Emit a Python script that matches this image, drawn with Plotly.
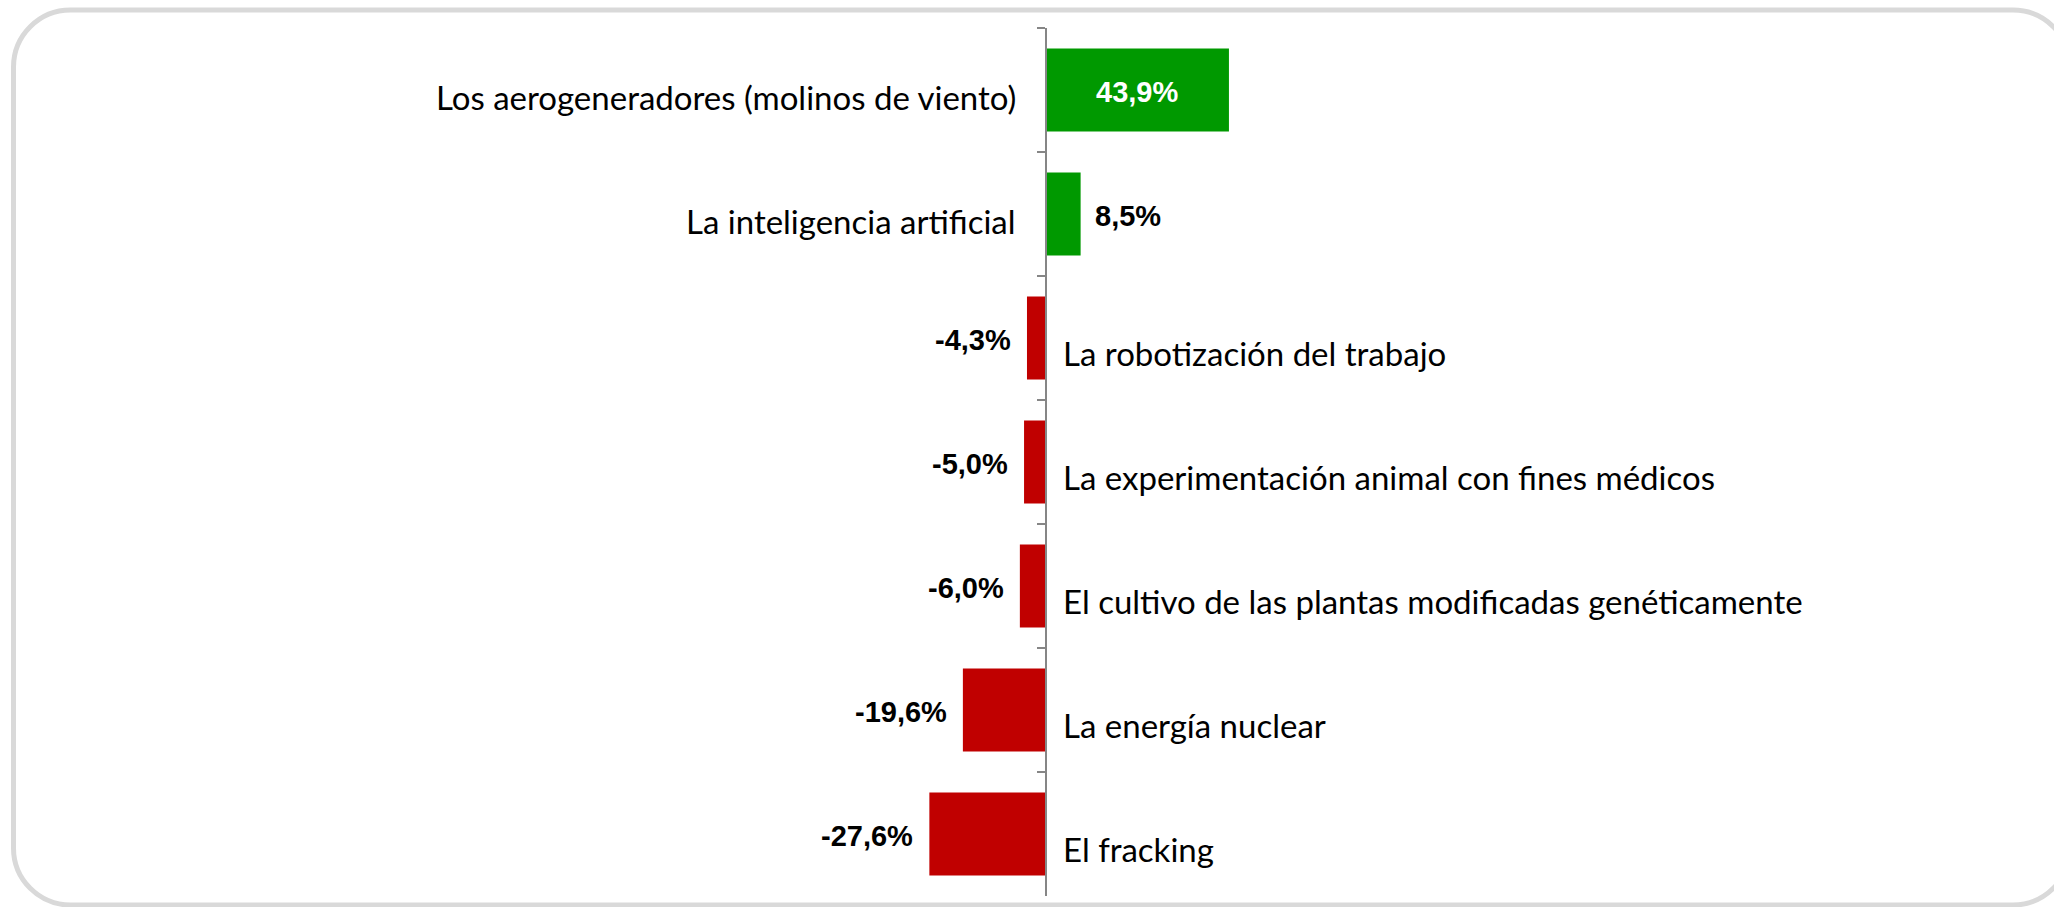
import plotly.graph_objects as go

categories = [
    "Los aerogeneradores (molinos de viento)",
    "La inteligencia artificial",
    "La robotización del trabajo",
    "La experimentación animal con fines médicos",
    "El cultivo de las plantas modificadas genéticamente",
    "La energía nuclear",
    "El fracking",
]
values = [43.9, 8.5, -4.3, -5.0, -6.0, -19.6, -27.6]
value_labels = ["43,9%", "8,5%", "-4,3%", "-5,0%", "-6,0%", "-19,6%", "-27,6%"]

GREEN = "#009900"
RED = "#C00000"
W, H = 2054, 907
ML, MR, MT, MB = 0, 0, 28, 11
ZERO_PX = 1045
PX_PER_UNIT = 4.19
plot_w = W - ML - MR
plot_h = H - MT - MB
x_lo = -(ZERO_PX - ML) / PX_PER_UNIT
x_hi = (W - MR - ZERO_PX) / PX_PER_UNIT

colors = [GREEN if v > 0 else RED for v in values]

fig = go.Figure(
    go.Bar(
        x=values,
        y=categories,
        orientation="h",
        marker=dict(color=colors, line=dict(width=0)),
        hoverinfo="skip",
    )
)

cat_font = dict(family="Lato, DejaVu Sans, sans-serif", size=33, color="#000000")
val_font = dict(family="Liberation Sans, Arial, sans-serif", size=29, color="#000000")

annotations = []
for i, (c, v, lab) in enumerate(zip(categories, values, value_labels)):
    # category label on the opposite side of the bar
    if v > 0:
        annotations.append(dict(x=0, y=c, xref="x", yref="y", text=c, showarrow=False,
                                xanchor="right", xshift=-27, yshift=-7, font=cat_font))
    else:
        annotations.append(dict(x=0, y=c, xref="x", yref="y", text=c, showarrow=False,
                                xanchor="left", xshift=16, yshift=-15, font=cat_font))
    # value label
    if i == 0:
        annotations.append(dict(x=v / 2, y=c, xref="x", yref="y", text="<b>%s</b>" % lab,
                                showarrow=False, xanchor="center", yshift=-2,
                                font=dict(val_font, color="#FFFFFF")))
    elif v > 0:
        annotations.append(dict(x=v, y=c, xref="x", yref="y", text="<b>%s</b>" % lab,
                                showarrow=False, xanchor="left", xshift=12, yshift=-2,
                                font=val_font))
    else:
        annotations.append(dict(x=v, y=c, xref="x", yref="y", text="<b>%s</b>" % lab,
                                showarrow=False, xanchor="right", xshift=-14, yshift=-2,
                                font=val_font))


def px_x(p):
    return (p - ML) / plot_w


def px_y(p):
    return (H - MB - p) / plot_h


# rounded border
x0, y0, x1, y1, r = 13.5, 10, 2070, 905, 57
k = 0.5523 * r
path = (
    f"M {px_x(x0)},{px_y(y0 + r)} "
    f"C {px_x(x0)},{px_y(y0 + r - k)} {px_x(x0 + r - k)},{px_y(y0)} {px_x(x0 + r)},{px_y(y0)} "
    f"L {px_x(x1 - r)},{px_y(y0)} "
    f"C {px_x(x1 - r + k)},{px_y(y0)} {px_x(x1)},{px_y(y0 + r - k)} {px_x(x1)},{px_y(y0 + r)} "
    f"L {px_x(x1)},{px_y(y1 - r)} "
    f"C {px_x(x1)},{px_y(y1 - r + k)} {px_x(x1 - r + k)},{px_y(y1)} {px_x(x1 - r)},{px_y(y1)} "
    f"L {px_x(x0 + r)},{px_y(y1)} "
    f"C {px_x(x0 + r - k)},{px_y(y1)} {px_x(x0)},{px_y(y1 - r + k)} {px_x(x0)},{px_y(y1 - r)} Z"
)

fig.update_layout(
    width=W,
    height=H,
    margin=dict(l=ML, r=MR, t=MT, b=MB, pad=0),
    paper_bgcolor="#FFFFFF",
    plot_bgcolor="rgba(0,0,0,0)",
    showlegend=False,
    bargap=0.33,
    annotations=annotations,
    shapes=[dict(type="path", path=path, xref="paper", yref="paper",
                 line=dict(color="#D9D9D9", width=5), fillcolor="rgba(0,0,0,0)", layer="below")],
    xaxis=dict(range=[x_lo, x_hi], visible=False, showgrid=False, zeroline=False, fixedrange=True),
    yaxis=dict(
        type="category",
        categoryorder="array",
        categoryarray=categories,
        autorange="reversed",
        anchor="free",
        position=(ZERO_PX - ML) / plot_w,
        showline=True,
        linecolor="#868686",
        linewidth=1.5,
        ticks="outside",
        tickson="boundaries",
        ticklen=8,
        tickwidth=1.2,
        tickcolor="#868686",
        showticklabels=False,
        showgrid=False,
        zeroline=False,
        fixedrange=True,
    ),
)

fig.write_html(
    "out.html",
    config={"displayModeBar": False, "staticPlot": True},
    post_script="document.body.style.margin='0';document.body.style.overflow='hidden';",
)
